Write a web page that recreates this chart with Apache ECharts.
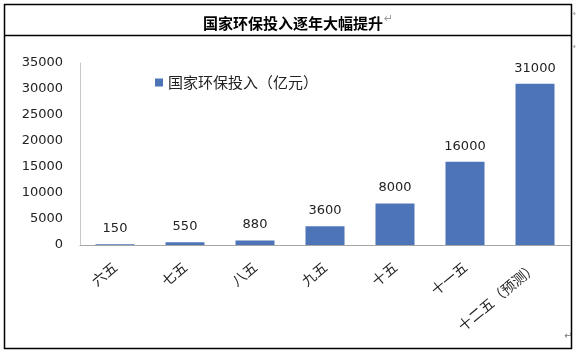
<!DOCTYPE html>
<html>
<head>
<meta charset="utf-8">
<style>
  html, body { margin: 0; padding: 0; background: #fff; }
  #chart { width: 576px; height: 353px; }
</style>
<script src="https://cdn.jsdelivr.net/npm/echarts@6/dist/echarts.min.js"></script>
</head>
<body>
<div id="chart"></div>
<script>
// 数据
const categories = ["六五", "七五", "八五", "九五", "十五", "十一五", "十二五（预测）"];
const investValues = [150, 550, 880, 3600, 8000, 16000, 31000];
const seriesName = "国家环保投入（亿元）";
const chartTitle = "国家环保投入逐年大幅提升";

let myChart = echarts.init(document.getElementById("chart"));

let option = {
  animation: false,
  backgroundColor: "#fff",
  // 标题放在外框的第一行
  title: {
    text: chartTitle,
    left: 288,
    top: 11,
    textAlign: "center",
    textStyle: {
      fontFamily: "Noto Sans CJK SC",
      fontSize: 15,
      fontWeight: "bold",
      color: "#000",
    },
  },
  legend: {
    left: 150,
    top: 70,
    itemWidth: 8,
    itemHeight: 8,
    itemGap: 5,
    icon: "rect",
    textStyle: {
      fontFamily: "Noto Sans CJK SC",
      fontSize: 15,
      color: "#222",
    },
  },
  grid: {
    left: 80,
    right: 6,
    top: 63,
    bottom: 108,
    containLabel: false,
  },
  xAxis: {
    type: "category",
    data: categories,
    axisLine: { lineStyle: { color: "#a6a6a6" } },
    axisTick: { show: false },
    axisLabel: {
      interval: 0,
      rotate: 40,
      margin: 20,
      fontFamily: "Noto Sans CJK SC",
      fontSize: 14,
      color: "#222",
    },
  },
  yAxis: {
    type: "value",
    min: 0,
    max: 35000,
    interval: 5000,
    axisLine: { show: true, lineStyle: { color: "#c8c8c8" } },
    axisTick: { show: false },
    splitLine: { show: false },
    axisLabel: {
      margin: 17,
      // 不要千分位
      formatter: function (v) {
        return String(v);
      },
      fontFamily: "DejaVu Sans",
      fontSize: 13,
      color: "#222",
    },
  },
  series: [
    {
      name: seriesName,
      type: "bar",
      barWidth: 39,
      data: investValues,
      itemStyle: { color: "#4e74b8" },
      label: {
        show: true,
        position: "top",
        distance: 9,
        fontFamily: "DejaVu Sans",
        fontSize: 13,
        color: "#222",
      },
    },
  ],
  // 外框 + 段落标记
  graphic: [
    { type: "rect", shape: { x: 4.5, y: 4.5, width: 567, height: 344 }, style: { fill: "none", stroke: "#000", lineWidth: 1.5 }, silent: true },
    { type: "line", shape: { x1: 4, y1: 35.5, x2: 572, y2: 35.5 }, style: { stroke: "#000", lineWidth: 1.5 }, silent: true },
    { type: "text", left: 384, top: 14, style: { text: "↵", font: "11px DejaVu Sans", fill: "#999" }, silent: true },
    { type: "text", left: 573, top: 10, style: { text: "↵", font: "8px DejaVu Sans", fill: "#999" }, silent: true },
    { type: "text", left: 573, top: 43, style: { text: "↵", font: "8px DejaVu Sans", fill: "#999" }, silent: true },
    { type: "text", left: 564, top: 331, style: { text: "↵", font: "10px DejaVu Sans", fill: "#777" }, silent: true },
  ],
};
myChart.setOption(option);
</script>
</body>
</html>
